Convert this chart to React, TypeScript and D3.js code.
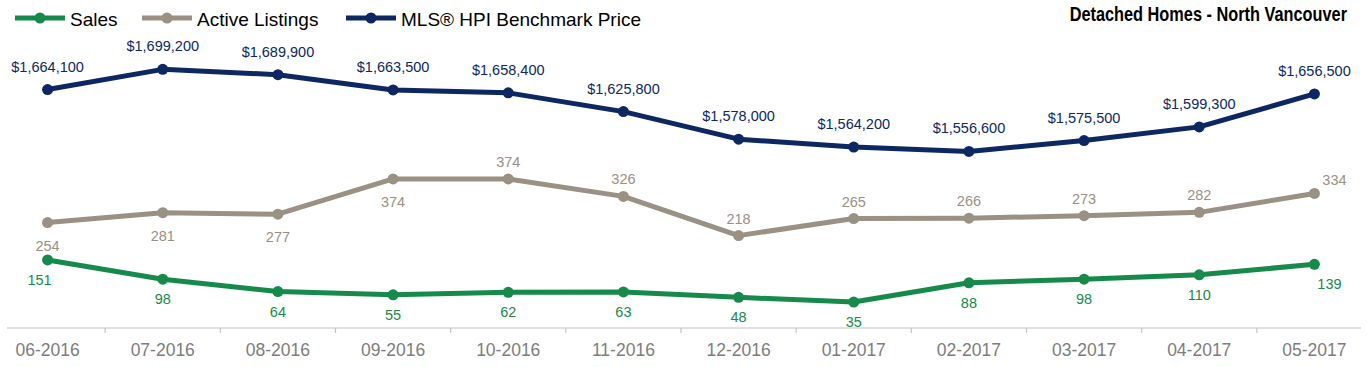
import { useMemo } from "react";
import { line, scaleBand, scaleLinear, format } from "d3";

const months = [
  "06-2016", "07-2016", "08-2016", "09-2016", "10-2016", "11-2016",
  "12-2016", "01-2017", "02-2017", "03-2017", "04-2017", "05-2017",
];
const sales = [151, 98, 64, 55, 62, 63, 48, 35, 88, 98, 110, 139];
const listings = [254, 281, 277, 374, 374, 326, 218, 265, 266, 273, 282, 334];
const hpi = [
  1664100, 1699200, 1689900, 1663500, 1658400, 1625800, 1578000, 1564200,
  1556600, 1575500, 1599300, 1656500,
];
// label placement: 1 = below the point, -1 = above
const listingsSide = [1, 1, 1, 1, -1, -1, -1, -1, -1, -1, -1, -1];

const width = 1369;
const height = 367;
const axisY = 328;

const green = "#168a4b";
const grey = "#9a9084";
const navy = "#0c2762";
const font = "'Liberation Sans', Arial, Helvetica, sans-serif";

const legend = [
  { label: "Sales", color: green, x: 15 },
  { label: "Active Listings", color: grey, x: 142 },
  { label: "MLS® HPI Benchmark Price", color: navy, x: 346 },
];

export default function App() {
  const { x, bw, countY, hpiY } = useMemo(() => {
    const x = scaleBand<string>().domain(months).range([-10, 1372]);
    const countY = scaleLinear().domain([0, 400]).range([314.8, 169.5]);
    const hpiY = scaleLinear().domain([1250000, 1700000]).range([axisY, 68.9]);
    return { x, bw: x.bandwidth(), countY, hpiY };
  }, []);

  const cx = (i: number) => (x(months[i]) ?? 0) + bw / 2;
  const mk = (vals: number[], y: (v: number) => number) =>
    line<number>()
      .x((_, i) => cx(i))
      .y((v) => y(v))(vals) ?? "";

  const money = format("$,");

  return (
    <div style={{ position: "absolute", left: 0, top: 0 }}>
      <svg width={width} height={height} style={{ display: "block" }}>
        {/* legend */}
        {legend.map((l) => (
          <g key={l.label} transform={`translate(${l.x},18)`}>
            <line x1={0} x2={50} y1={0} y2={0} stroke={l.color} strokeWidth={5} />
            <circle cx={25} cy={0} r={5.5} fill={l.color} />
            <text x={55} y={8} fontFamily={font} fontSize={19} fill="#000">
              {l.label}
            </text>
          </g>
        ))}
        {/* no condensed face installed, so squeeze the bold one horizontally */}
        <text
          transform="translate(1347,21) scale(0.837,1)"
          textAnchor="end"
          fontFamily={font}
          fontWeight="bold"
          fontSize={19.5}
          fill="#000"
        >
          Detached Homes - North Vancouver
        </text>

        {/* x axis */}
        <line x1={7} x2={1361} y1={axisY} y2={axisY} stroke="#c4c4c4" strokeWidth={1.2} />
        {months.slice(1).map((m) => (
          <line
            key={m}
            x1={x(m) ?? 0}
            x2={x(m) ?? 0}
            y1={axisY}
            y2={axisY + 5}
            stroke="#c4c4c4"
            strokeWidth={1.2}
          />
        ))}
        {months.map((m, i) => (
          <text
            key={m}
            x={cx(i)}
            y={356}
            textAnchor="middle"
            fontFamily={font}
            fontSize={17.5}
            fill="#7d7d7d"
          >
            {m}
          </text>
        ))}

        {/* series lines */}
        <path d={mk(hpi, hpiY)} fill="none" stroke={navy} strokeWidth={5} strokeLinejoin="round" />
        <path d={mk(listings, countY)} fill="none" stroke={grey} strokeWidth={5} strokeLinejoin="round" />
        <path d={mk(sales, countY)} fill="none" stroke={green} strokeWidth={5} strokeLinejoin="round" />

        {hpi.map((v, i) => (
          <g key={`h${i}`}>
            <circle cx={cx(i)} cy={hpiY(v)} r={5.5} fill={navy} />
            <text
              x={cx(i)}
              y={hpiY(v) - 18}
              textAnchor="middle"
              fontFamily={font}
              fontSize={14.5}
              fill={navy}
            >
              {money(v)}
            </text>
          </g>
        ))}
        {listings.map((v, i) => {
          const last = i === listings.length - 1;
          return (
            <g key={`l${i}`}>
              <circle cx={cx(i)} cy={countY(v)} r={5.5} fill={grey} />
              <text
                x={cx(i) + (last ? 20 : 0)}
                y={countY(v) + (listingsSide[i] > 0 ? 28 : last ? -8 : -12)}
                textAnchor="middle"
                fontFamily={font}
                fontSize={14.5}
                fill={grey}
              >
                {v}
              </text>
            </g>
          );
        })}
        {sales.map((v, i) => {
          const dx = i === 0 ? -8 : i === sales.length - 1 ? 15 : 0;
          return (
            <g key={`s${i}`}>
              <circle cx={cx(i)} cy={countY(v)} r={5.5} fill={green} />
              <text
                x={cx(i) + dx}
                y={countY(v) + 25}
                textAnchor="middle"
                fontFamily={font}
                fontSize={14.5}
                fill={green}
              >
                {v}
              </text>
            </g>
          );
        })}
      </svg>
    </div>
  );
}
